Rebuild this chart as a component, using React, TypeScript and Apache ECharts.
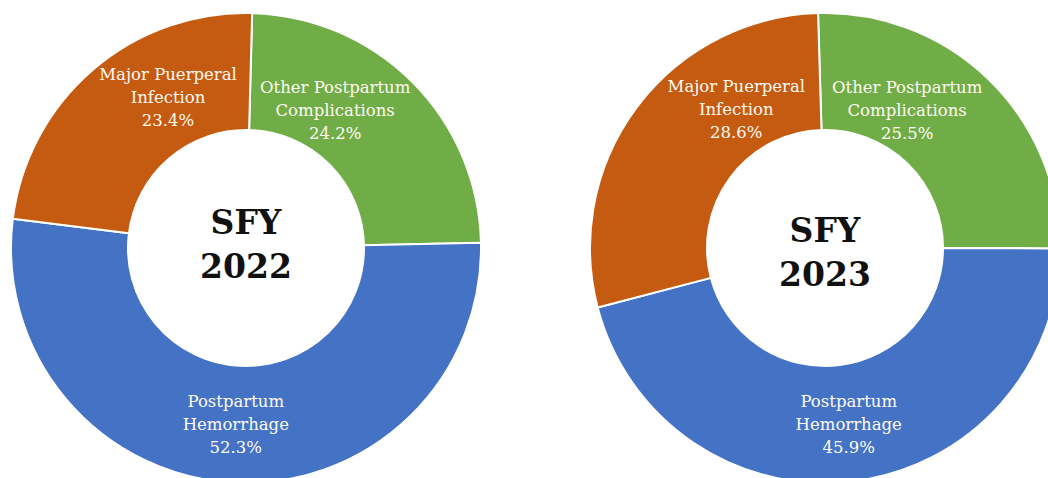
import React, { useEffect, useRef } from "react";
import * as echarts from "echarts";

const categories = [
  "Other Postpartum\nComplications",
  "Postpartum\nHemorrhage",
  "Major Puerperal\nInfection",
];
const colors = ["#70AD47", "#4472C4", "#C55A11"];
const values2022 = [24.2, 52.3, 23.4];
const values2023 = [25.5, 45.9, 28.6];
const years = ["2022", "2023"];

// label nudges (dx, dy) per slice, mimicking the original placement
const labelShift = [
  [[-38, -11], [-1, -3], [39, -14]],
  [[-43, -9], [1, -2], [55, -31]],
];

export default function App() {
  const ref = useRef<HTMLDivElement>(null);
  useEffect(() => {
    if (!ref.current) return;
    const chart = echarts.init(ref.current, undefined, { renderer: "svg" });
    const centers = [
      [246, 248],
      [825, 248],
    ];
    const starts = [88.5, 91.7];
    const makeSeries = (vals: number[], i: number) => ({
      type: "pie",
      center: centers[i],
      radius: [118, 235],
      startAngle: starts[i],
      clockwise: true,
      avoidLabelOverlap: false,
      itemStyle: { borderColor: "#ffffff", borderWidth: 2 },
      label: {
        show: true,
        position: "inside",
        formatter: (p: any) => `${p.name}\n${Number(p.value).toFixed(1)}%`,
        color: "#fffbf2",
        fontFamily: "DejaVu Serif",
        fontSize: 16.5,
        lineHeight: 23,
        align: "center",
      },
      labelLine: { show: false },
      labelLayout: (params: any) => {
        const s = labelShift[params.seriesIndex][params.dataIndex];
        return { dx: s[0], dy: s[1] };
      },
      emphasis: { disabled: true },
      data: vals.map((v, k) => ({
        name: categories[k],
        value: v,
        itemStyle: { color: colors[k] },
      })),
    });
    chart.setOption({
      animation: false,
      backgroundColor: "#ffffff",
      series: [makeSeries(values2022, 0), makeSeries(values2023, 1)],
      graphic: years.map((y, i) => ({
        type: "text",
        x: centers[i][0],
        y: centers[i][1] + (i === 0 ? -4 : 4),
        style: {
          text: `SFY\n${y}`,
          align: "center",
          verticalAlign: "middle",
          fontFamily: "DejaVu Serif",
          fontWeight: "bold",
          fontSize: 33,
          lineHeight: 44,
          fill: "#111111",
        },
      })),
    });
    return () => chart.dispose();
  }, []);
  return (
    <div
      ref={ref}
      style={{ position: "absolute", left: 0, top: 0, width: 1048, height: 478 }}
    />
  );
}
